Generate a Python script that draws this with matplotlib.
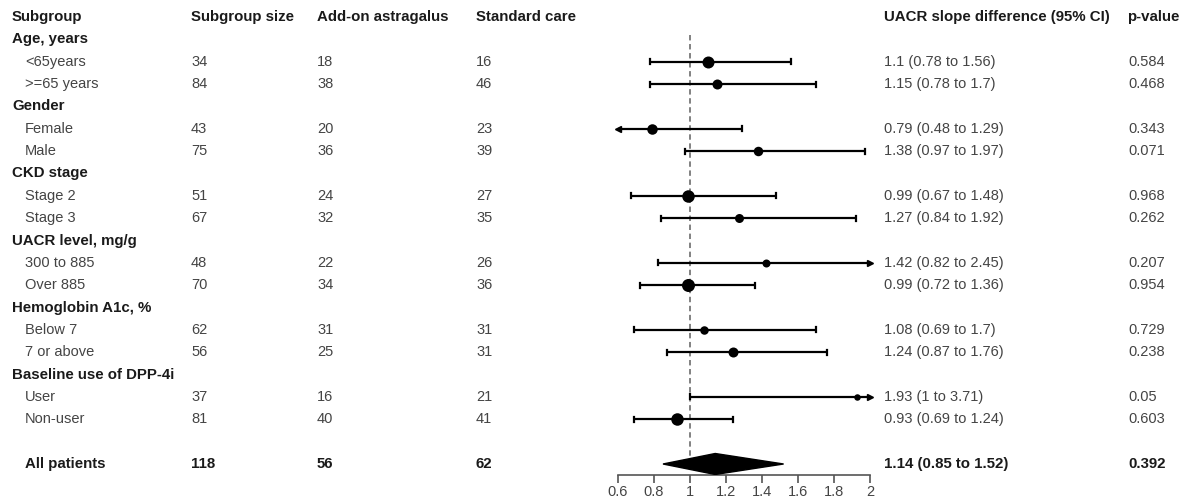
import matplotlib
matplotlib.use("Agg")
import matplotlib.pyplot as plt
from matplotlib.patches import Polygon

plt.rcParams['font.family'] = ['Liberation Sans', 'DejaVu Sans']

labels = ["Age, years", "<65years", ">=65 years", "Gender", "Female", "Male",
          "CKD stage", "Stage 2", "Stage 3", "UACR level, mg/g", "300 to 885", "Over 885",
          "Hemoglobin A1c, %", "Below 7", "7 or above", "Baseline use of DPP-4i",
          "User", "Non-user"]
is_header = [True, False, False, True, False, False, True, False, False, True, False, False,
             True, False, False, True, False, False]
size = ["", "34", "84", "", "43", "75", "", "51", "67", "", "48", "70", "", "62", "56", "", "37", "81"]
addon = ["", "18", "38", "", "20", "36", "", "24", "32", "", "22", "34", "", "31", "25", "", "16", "40"]
std = ["", "16", "46", "", "23", "39", "", "27", "35", "", "26", "36", "", "31", "31", "", "21", "41"]
est = [None, 1.1, 1.15, None, 0.79, 1.38, None, 0.99, 1.27, None, 1.42, 0.99, None, 1.08, 1.24, None, 1.93, 0.93]
lo = [None, 0.78, 0.78, None, 0.48, 0.97, None, 0.67, 0.84, None, 0.82, 0.72, None, 0.69, 0.87, None, 1.0, 0.69]
hi = [None, 1.56, 1.7, None, 1.29, 1.97, None, 1.48, 1.92, None, 2.45, 1.36, None, 1.7, 1.76, None, 3.71, 1.24]
ci_text = ["", "1.1 (0.78 to 1.56)", "1.15 (0.78 to 1.7)", "", "0.79 (0.48 to 1.29)", "1.38 (0.97 to 1.97)",
           "", "0.99 (0.67 to 1.48)", "1.27 (0.84 to 1.92)", "", "1.42 (0.82 to 2.45)", "0.99 (0.72 to 1.36)",
           "", "1.08 (0.69 to 1.7)", "1.24 (0.87 to 1.76)", "", "1.93 (1 to 3.71)", "0.93 (0.69 to 1.24)"]
pval = ["", "0.584", "0.468", "", "0.343", "0.071", "", "0.968", "0.262", "", "0.207", "0.954",
        "", "0.729", "0.238", "", "0.05", "0.603"]
marker_px = [0, 12, 10, 0, 10.5, 9.5, 0, 12.5, 9, 0, 8, 13, 0, 8.5, 10, 0, 6.5, 12.5]

overall = {"label": "All patients", "size": "118", "addon": "56", "std": "62",
           "est": 1.14, "lo": 0.85, "hi": 1.52, "ci": "1.14 (0.85 to 1.52)", "p": "0.392"}

headers = ["Subgroup", "Subgroup size", "Add-on astragalus", "Standard care",
           "UACR slope difference (95% CI)", "p-value"]
xticks = [0.6, 0.8, 1, 1.2, 1.4, 1.6, 1.8, 2]
xticklabels = ["0.6", "0.8", "1", "1.2", "1.4", "1.6", "1.8", "2"]

W, H = 1195, 499
fig = plt.figure(figsize=(W / 100, H / 100), dpi=100)
tax = fig.add_axes([0, 0, 1, 1])
tax.set_xlim(0, W)
tax.set_ylim(H, 0)
tax.axis("off")

def rowy(i):
    return 17 + 22.35 * i

FS = 10.5
FSB = 10.8
dark = "#1a1a1a"
grey = "#444444"
col_x = [12, 191, 317, 476, 884, 1128]

for x, h in zip(col_x, headers):
    xx = 1127 if h == "p-value" else x
    tax.text(xx, rowy(0), h, fontsize=FSB, fontweight="bold", color=dark, va="center", ha="left")

for k, lab in enumerate(labels):
    y = rowy(k + 1)
    if is_header[k]:
        tax.text(col_x[0], y, lab, fontsize=FSB, fontweight="bold", color=dark, va="center")
    else:
        tax.text(25, y, lab, fontsize=FS, color=grey, va="center")
        tax.text(col_x[1], y, size[k], fontsize=FS, color=grey, va="center")
        tax.text(col_x[2], y, addon[k], fontsize=FS, color=grey, va="center")
        tax.text(col_x[3], y, std[k], fontsize=FS, color=grey, va="center")
        tax.text(col_x[4], y, ci_text[k], fontsize=FS, color=grey, va="center")
        tax.text(col_x[5], y, pval[k], fontsize=FS, color=grey, va="center")

yo = rowy(20)
tax.text(25, yo, overall["label"], fontsize=FSB, fontweight="bold", color=dark, va="center")
tax.text(col_x[1], yo, overall["size"], fontsize=FSB, fontweight="bold", color=dark, va="center")
tax.text(col_x[2], yo, overall["addon"], fontsize=FSB, fontweight="bold", color=dark, va="center")
tax.text(col_x[3], yo, overall["std"], fontsize=FSB, fontweight="bold", color=dark, va="center")
tax.text(col_x[4], yo, overall["ci"], fontsize=FSB, fontweight="bold", color=dark, va="center")
tax.text(col_x[5], yo, overall["p"], fontsize=FSB, fontweight="bold", color=dark, va="center")

# forest axes
x0, x1 = 618, 870
ybot = 475
fax = fig.add_axes([x0 / W, (H - ybot) / H, (x1 - x0) / W, ybot / H])
fax.set_xlim(0.6, 2)
fax.set_ylim(ybot, 0)
fax.patch.set_alpha(0)
for s in ["top", "right", "left"]:
    fax.spines[s].set_visible(False)
fax.spines["bottom"].set_color("#555555")
fax.spines["bottom"].set_linewidth(1.2)
fax.set_yticks([])
fax.set_xticks(xticks)
fax.set_xticklabels(xticklabels)
fax.tick_params(axis="x", length=6, width=1.2, color="#555555", labelsize=FS, labelcolor=grey, pad=1.5)

fax.vlines(1, 35, 462, colors="#777777", linestyles=(0, (3, 2)), linewidth=1.3, zorder=1)

xmin, xmax = 0.6, 2.0
for k in range(len(labels)):
    if est[k] is None:
        continue
    y = rowy(k + 1)
    l = max(lo[k], xmin)
    r = min(hi[k], xmax)
    fax.plot([l, r], [y, y], color="black", lw=1.6, solid_capstyle="butt", zorder=2, clip_on=False)
    if lo[k] < xmin:
        fax.plot([l], [y], marker="<", color="black", markersize=4, clip_on=False, zorder=3)
    else:
        fax.plot([l, l], [y - 2.5, y + 2.5], color="black", lw=1.6, zorder=2)
    if hi[k] > xmax:
        fax.plot([r], [y], marker=">", color="black", markersize=4, clip_on=False, zorder=3)
    else:
        fax.plot([r, r], [y - 2.5, y + 2.5], color="black", lw=1.6, zorder=2)
    fax.plot([est[k]], [y], marker="o", color="black", markersize=marker_px[k] * 0.72,
             markeredgewidth=0, zorder=4, clip_on=False)

dh = 10.5
diamond = Polygon([[overall["lo"], yo], [overall["est"], yo - dh], [overall["hi"], yo],
                   [overall["est"], yo + dh]], closed=True, facecolor="black", edgecolor="black", zorder=4)
fax.add_patch(diamond)

fig.savefig("out.png", dpi=100)
